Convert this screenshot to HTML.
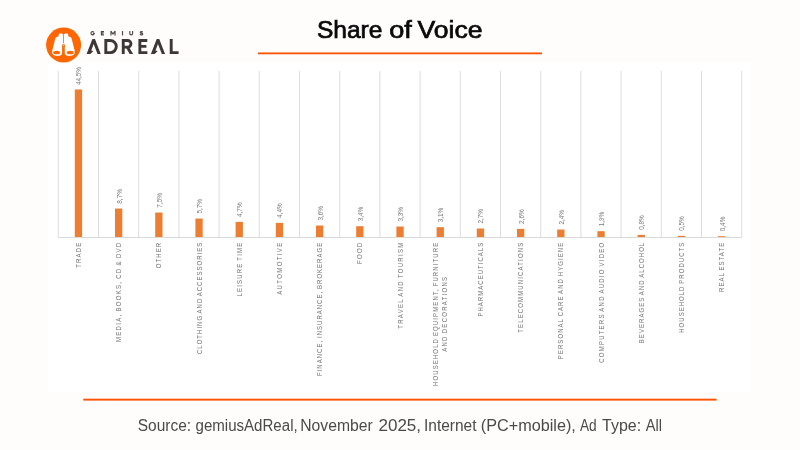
<!DOCTYPE html>
<html><head><meta charset="utf-8"><title>Share of Voice</title>
<style>
html,body{margin:0;padding:0;}
body{width:800px;height:450px;overflow:hidden;background:#fefdfb;font-family:"Liberation Sans",sans-serif;position:relative;}
#chartbg{position:absolute;left:48.3px;top:61.5px;width:703.2px;height:330.2px;background:#fff;}
svg{position:absolute;left:0;top:0;will-change:transform;}
svg text{font-family:"Liberation Sans",sans-serif;}
</style></head><body>
<div id="chartbg"></div>
<svg width="800" height="450" viewBox="0 0 800 450">
<line x1="58.30" y1="71" x2="58.30" y2="237.0" stroke="#d9d9d9" stroke-width="0.9"/>
<line x1="98.50" y1="71" x2="98.50" y2="237.0" stroke="#d9d9d9" stroke-width="0.9"/>
<line x1="138.70" y1="71" x2="138.70" y2="237.0" stroke="#d9d9d9" stroke-width="0.9"/>
<line x1="178.90" y1="71" x2="178.90" y2="237.0" stroke="#d9d9d9" stroke-width="0.9"/>
<line x1="219.10" y1="71" x2="219.10" y2="237.0" stroke="#d9d9d9" stroke-width="0.9"/>
<line x1="259.30" y1="71" x2="259.30" y2="237.0" stroke="#d9d9d9" stroke-width="0.9"/>
<line x1="299.50" y1="71" x2="299.50" y2="237.0" stroke="#d9d9d9" stroke-width="0.9"/>
<line x1="339.70" y1="71" x2="339.70" y2="237.0" stroke="#d9d9d9" stroke-width="0.9"/>
<line x1="379.90" y1="71" x2="379.90" y2="237.0" stroke="#d9d9d9" stroke-width="0.9"/>
<line x1="420.10" y1="71" x2="420.10" y2="237.0" stroke="#d9d9d9" stroke-width="0.9"/>
<line x1="460.30" y1="71" x2="460.30" y2="237.0" stroke="#d9d9d9" stroke-width="0.9"/>
<line x1="500.50" y1="71" x2="500.50" y2="237.0" stroke="#d9d9d9" stroke-width="0.9"/>
<line x1="540.70" y1="71" x2="540.70" y2="237.0" stroke="#d9d9d9" stroke-width="0.9"/>
<line x1="580.90" y1="71" x2="580.90" y2="237.0" stroke="#d9d9d9" stroke-width="0.9"/>
<line x1="621.10" y1="71" x2="621.10" y2="237.0" stroke="#d9d9d9" stroke-width="0.9"/>
<line x1="661.30" y1="71" x2="661.30" y2="237.0" stroke="#d9d9d9" stroke-width="0.9"/>
<line x1="701.50" y1="71" x2="701.50" y2="237.0" stroke="#d9d9d9" stroke-width="0.9"/>
<line x1="741.70" y1="71" x2="741.70" y2="237.0" stroke="#d9d9d9" stroke-width="0.9"/>
<line x1="57.80" y1="237.5" x2="742.20" y2="237.5" stroke="#dadada" stroke-width="1"/>
<rect x="74.80" y="89.45" width="7.3" height="147.55" fill="#ED7D31"/>
<text transform="translate(81.35,84.98) rotate(-90) scale(0.87,1)" font-size="7.3" fill="#7a7a7a">44,5%</text>
<text transform="translate(80.95,242.80) rotate(-90) scale(0.86,1)" text-anchor="end" font-size="7.0" fill="#747474" word-spacing="-1" textLength="29.07" lengthAdjust="spacing">TRADE</text>
<rect x="115.00" y="208.56" width="7.3" height="28.44" fill="#ED7D31"/>
<text transform="translate(121.55,203.66) rotate(-90) scale(0.87,1)" font-size="7.3" fill="#7a7a7a">8,7%</text>
<text transform="translate(121.15,242.80) rotate(-90) scale(0.86,1)" text-anchor="end" font-size="7.0" fill="#747474" word-spacing="-1" textLength="115.35" lengthAdjust="spacing">MEDIA, BOOKS, CD &amp; DVD</text>
<rect x="155.20" y="212.55" width="7.3" height="24.45" fill="#ED7D31"/>
<text transform="translate(161.75,207.64) rotate(-90) scale(0.87,1)" font-size="7.3" fill="#7a7a7a">7,5%</text>
<text transform="translate(161.35,242.80) rotate(-90) scale(0.86,1)" text-anchor="end" font-size="7.0" fill="#747474" word-spacing="-1" textLength="29.65" lengthAdjust="spacing">OTHER</text>
<rect x="195.40" y="218.54" width="7.3" height="18.46" fill="#ED7D31"/>
<text transform="translate(201.95,213.60) rotate(-90) scale(0.87,1)" font-size="7.3" fill="#7a7a7a">5,7%</text>
<text transform="translate(201.55,242.80) rotate(-90) scale(0.86,1)" text-anchor="end" font-size="7.0" fill="#747474" word-spacing="-1" textLength="129.30" lengthAdjust="spacing">CLOTHING AND ACCESSORIES</text>
<rect x="235.60" y="221.86" width="7.3" height="15.14" fill="#ED7D31"/>
<text transform="translate(242.15,216.92) rotate(-90) scale(0.87,1)" font-size="7.3" fill="#7a7a7a">4,7%</text>
<text transform="translate(241.75,242.80) rotate(-90) scale(0.86,1)" text-anchor="end" font-size="7.0" fill="#747474" word-spacing="-1" textLength="62.33" lengthAdjust="spacing">LEISURE TIME</text>
<rect x="275.80" y="222.86" width="7.3" height="14.14" fill="#ED7D31"/>
<text transform="translate(282.35,217.91) rotate(-90) scale(0.87,1)" font-size="7.3" fill="#7a7a7a">4,4%</text>
<text transform="translate(281.95,242.80) rotate(-90) scale(0.86,1)" text-anchor="end" font-size="7.0" fill="#747474" word-spacing="-1" textLength="60.47" lengthAdjust="spacing">AUTOMOTIVE</text>
<rect x="316.00" y="225.52" width="7.3" height="11.48" fill="#ED7D31"/>
<text transform="translate(322.55,220.57) rotate(-90) scale(0.87,1)" font-size="7.3" fill="#7a7a7a">3,6%</text>
<text transform="translate(322.15,242.80) rotate(-90) scale(0.86,1)" text-anchor="end" font-size="7.0" fill="#747474" word-spacing="-1" textLength="154.88" lengthAdjust="spacing">FINANCE, INSURANCE, BROKERAGE</text>
<rect x="356.20" y="226.19" width="7.3" height="10.81" fill="#ED7D31"/>
<text transform="translate(362.75,221.23) rotate(-90) scale(0.87,1)" font-size="7.3" fill="#7a7a7a">3,4%</text>
<text transform="translate(362.35,242.80) rotate(-90) scale(0.86,1)" text-anchor="end" font-size="7.0" fill="#747474" word-spacing="-1" textLength="24.65" lengthAdjust="spacing">FOOD</text>
<rect x="396.40" y="226.52" width="7.3" height="10.48" fill="#ED7D31"/>
<text transform="translate(402.95,221.56) rotate(-90) scale(0.87,1)" font-size="7.3" fill="#7a7a7a">3,3%</text>
<text transform="translate(402.55,242.80) rotate(-90) scale(0.86,1)" text-anchor="end" font-size="7.0" fill="#747474" word-spacing="-1" textLength="100.00" lengthAdjust="spacing">TRAVEL AND TOURISM</text>
<rect x="436.60" y="227.19" width="7.3" height="9.81" fill="#ED7D31"/>
<text transform="translate(443.15,222.22) rotate(-90) scale(0.87,1)" font-size="7.3" fill="#7a7a7a">3,1%</text>
<text transform="translate(438.15,242.80) rotate(-90) scale(0.86,1)" text-anchor="end" font-size="7.0" fill="#747474" word-spacing="-1" textLength="166.51" lengthAdjust="spacing">HOUSEHOLD EQUIPMENT, FURNITURE</text>
<text transform="translate(447.35,277.00) rotate(-90) scale(0.86,1)" text-anchor="end" font-size="7.0" fill="#747474" word-spacing="-1" textLength="86.98" lengthAdjust="spacing">AND DECORATIONS</text>
<rect x="476.80" y="228.52" width="7.3" height="8.48" fill="#ED7D31"/>
<text transform="translate(483.35,223.55) rotate(-90) scale(0.87,1)" font-size="7.3" fill="#7a7a7a">2,7%</text>
<text transform="translate(482.95,242.80) rotate(-90) scale(0.86,1)" text-anchor="end" font-size="7.0" fill="#747474" word-spacing="-1" textLength="85.81" lengthAdjust="spacing">PHARMACEUTICALS</text>
<rect x="517.00" y="228.85" width="7.3" height="8.15" fill="#ED7D31"/>
<text transform="translate(523.55,223.88) rotate(-90) scale(0.87,1)" font-size="7.3" fill="#7a7a7a">2,6%</text>
<text transform="translate(523.15,242.80) rotate(-90) scale(0.86,1)" text-anchor="end" font-size="7.0" fill="#747474" word-spacing="-1" textLength="104.65" lengthAdjust="spacing">TELECOMMUNICATIONS</text>
<rect x="557.20" y="229.52" width="7.3" height="7.48" fill="#ED7D31"/>
<text transform="translate(563.75,224.54) rotate(-90) scale(0.87,1)" font-size="7.3" fill="#7a7a7a">2,4%</text>
<text transform="translate(563.35,242.80) rotate(-90) scale(0.86,1)" text-anchor="end" font-size="7.0" fill="#747474" word-spacing="-1" textLength="135.35" lengthAdjust="spacing">PERSONAL CARE AND HYGIENE</text>
<rect x="597.40" y="231.18" width="7.3" height="5.82" fill="#ED7D31"/>
<text transform="translate(603.95,226.20) rotate(-90) scale(0.87,1)" font-size="7.3" fill="#7a7a7a">1,9%</text>
<text transform="translate(603.55,242.80) rotate(-90) scale(0.86,1)" text-anchor="end" font-size="7.0" fill="#747474" word-spacing="-1" textLength="139.53" lengthAdjust="spacing">COMPUTERS AND AUDIO VIDEO</text>
<rect x="637.60" y="234.84" width="7.3" height="2.16" fill="#ED7D31"/>
<text transform="translate(644.15,229.85) rotate(-90) scale(0.87,1)" font-size="7.3" fill="#7a7a7a">0,8%</text>
<text transform="translate(643.75,242.80) rotate(-90) scale(0.86,1)" text-anchor="end" font-size="7.0" fill="#747474" word-spacing="-1" textLength="116.74" lengthAdjust="spacing">BEVERAGES AND ALCOHOL</text>
<rect x="677.80" y="235.84" width="7.3" height="1.16" fill="#ED7D31"/>
<text transform="translate(684.35,230.84) rotate(-90) scale(0.87,1)" font-size="7.3" fill="#7a7a7a">0,5%</text>
<text transform="translate(683.95,242.80) rotate(-90) scale(0.86,1)" text-anchor="end" font-size="7.0" fill="#747474" word-spacing="-1" textLength="104.65" lengthAdjust="spacing">HOUSEHOLD PRODUCTS</text>
<rect x="718.00" y="236.17" width="7.3" height="0.83" fill="#ED7D31"/>
<text transform="translate(724.55,231.17) rotate(-90) scale(0.87,1)" font-size="7.3" fill="#7a7a7a">0,4%</text>
<text transform="translate(724.15,242.80) rotate(-90) scale(0.86,1)" text-anchor="end" font-size="7.0" fill="#747474" word-spacing="-1" textLength="57.21" lengthAdjust="spacing">REAL ESTATE</text>
<circle cx="63.6" cy="45" r="17.5" fill="#FF6704"/>
<!-- binoculars -->
<g fill="#fff">
<path d="M63.45 34.1 H62.5 Q62.3 33.4 61.3 33.4 H59.9 Q58.9 33.4 58.8 34.5 L58.6 36.3 L56.3 37.2 Q55.5 37.5 55.3 38.4 L52.2 50.8 Q51.5 54.4 54.6 55.6 Q57.6 56.5 60.4 55.6 Q62.1 54.9 62.1 53 V46 H63.45 Z"/>
<path d="M63.45 34.1 H62.5 Q62.3 33.4 61.3 33.4 H59.9 Q58.9 33.4 58.8 34.5 L58.6 36.3 L56.3 37.2 Q55.5 37.5 55.3 38.4 L52.2 50.8 Q51.5 54.4 54.6 55.6 Q57.6 56.5 60.4 55.6 Q62.1 54.9 62.1 53 V46 H63.45 Z" transform="translate(126.9,0) scale(-1,1)"/>
</g>
<g fill="#FF6704">
<ellipse cx="56.65" cy="52.5" rx="3.5" ry="1.85"/>
<ellipse cx="70.25" cy="52.5" rx="3.5" ry="1.85"/>
</g>
<path d="M63.45 34 V43.6" stroke="#FF6704" stroke-width="0.8" fill="none"/>
<circle cx="63.45" cy="45.3" r="2.0" fill="#fff"/>
<circle cx="63.45" cy="45.3" r="1.3" fill="#FF6704"/>
<rect x="62.05" y="45.6" width="2.8" height="1.5" fill="#FF6704"/>
<circle cx="63.45" cy="45.3" r="0.6" fill="#fff"/>
<!-- GEMIUS -->
<g fill="none" stroke="#504a47" stroke-width="1.15" transform="translate(0,31) scale(1,1.08) translate(0,-31)">
<path d="M93.9 32.05 A1.65 1.5 0 1 0 94.25 33.3 H92.9"/>
<path d="M104 31.58 H101.4 V34.52 H104 M101.4 33.05 H103.6"/>
<path d="M110.95 35.1 V31.05 L113 33.9 L115.05 31.05 V35.1" stroke-linejoin="bevel"/>
<path d="M122.5 31 V35.1"/>
<path d="M129.8 31 V33.25 A1.4 1.28 0 0 0 132.6 33.25 V31"/>
<path d="M142.7 32.1 Q142.4 31.55 141.45 31.55 Q140.25 31.55 140.25 32.3 Q140.25 32.95 141.45 33.05 Q142.75 33.2 142.75 33.9 Q142.75 34.55 141.4 34.55 Q140.4 34.55 140.05 33.95"/>
</g>
<!-- ADREAL -->
<g fill="#3d3735">
<path d="M125.6 47.0 H129.0 L133.1 54.1 H129.7 Z"/>
<path id="lam" d="M86.6 54.1 L92.4 38.9 H94.95 L100.75 54.1 H97.55 L93.68 43.93 L91.2 50.5 L93.4 51.0 L90.4 54.1 Z"/>
<path d="M86.6 54.1 L92.4 38.9 H94.95 L100.75 54.1 H97.55 L93.68 43.93 L91.2 50.5 L93.4 51.0 L90.4 54.1 Z" transform="translate(64.3,0)"/>
</g>
<g fill="none" stroke="#3d3735" stroke-width="2.9" stroke-linejoin="miter" stroke-miterlimit="10">
<path d="M105.8 39 V54.1 M105.8 40.45 H110.2 A6.1 6.1 0 0 1 110.2 52.65 H105.8"/>
<path d="M123.25 39 V54.1 M123.25 40.45 H127.6 A3.35 3.35 0 0 1 127.6 47.15 H123.25"/>
<path d="M139.85 39 V54.1 M139.85 40.45 H147.3 M139.85 46.4 H146.4 M139.85 52.65 H147.4"/>
<path d="M171.2 39 V52.65 H178.6"/>
</g>

<g font-size="24.6" fill="#0a0a0a" stroke="#0a0a0a" stroke-width="0.7" lengthAdjust="spacingAndGlyphs">
<text x="316.9" y="37.7" textLength="65.6" lengthAdjust="spacingAndGlyphs">Share</text>
<text x="389.3" y="37.7" textLength="22.6" lengthAdjust="spacingAndGlyphs">of</text>
<text x="417.6" y="37.7" textLength="65" lengthAdjust="spacingAndGlyphs">Voice</text>
</g>
<rect x="258" y="52.45" width="284" height="1.8" fill="#FF5200"/>
<rect x="83.3" y="398.7" width="633.3" height="1.9" fill="#FF5200"/>
<g font-size="16" fill="#4a4a4a">
<text x="137.78" y="430.5" textLength="53.32" lengthAdjust="spacingAndGlyphs">Source:</text>
<text x="195.5" y="430.5" textLength="102.16" lengthAdjust="spacingAndGlyphs">gemiusAdReal,</text>
<text x="300.27" y="430.5" textLength="72.55" lengthAdjust="spacingAndGlyphs">November</text>
<text x="378.43" y="430.5" textLength="42.68" lengthAdjust="spacingAndGlyphs">2025,</text>
<text x="424.03" y="430.5" textLength="52.47" lengthAdjust="spacingAndGlyphs">Internet</text>
<text x="480.74" y="430.5" textLength="95.09" lengthAdjust="spacingAndGlyphs">(PC+mobile),</text>
<text x="580.0" y="430.5" textLength="16.74" lengthAdjust="spacingAndGlyphs">Ad</text>
<text x="602.0" y="430.5" textLength="39.14" lengthAdjust="spacingAndGlyphs">Type:</text>
<text x="645.75" y="430.5" textLength="16.21" lengthAdjust="spacingAndGlyphs">All</text>
</g>
</svg>
</body></html>
